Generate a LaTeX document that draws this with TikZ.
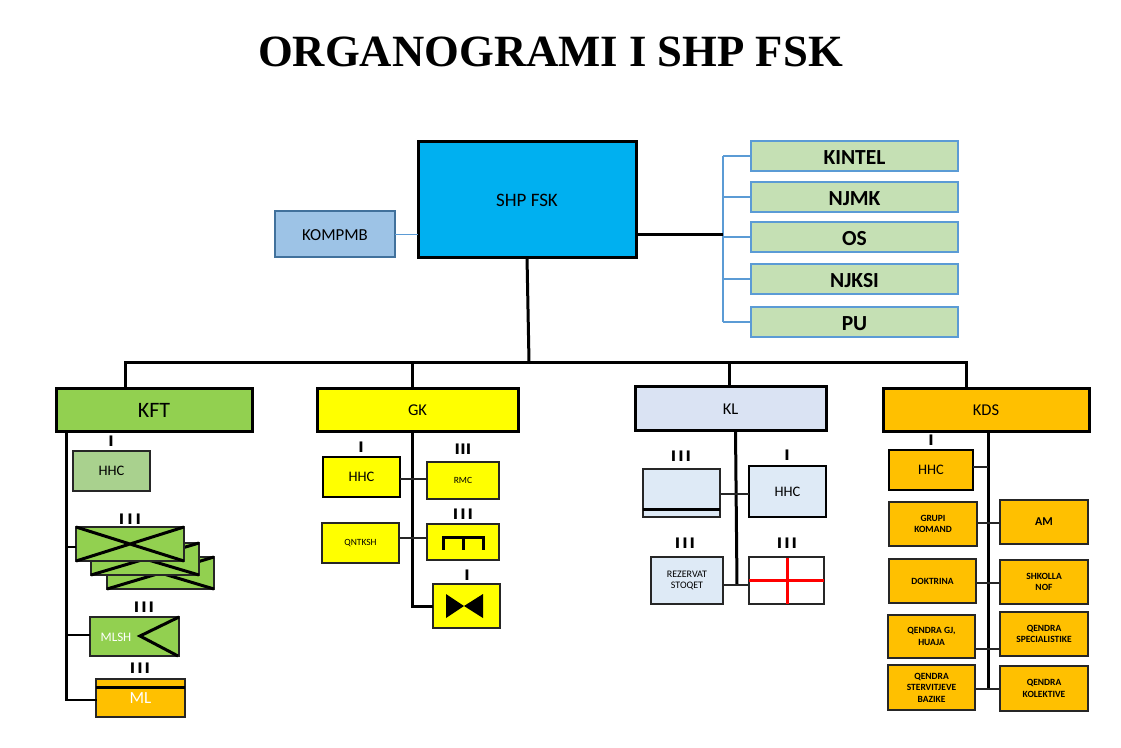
\documentclass[tikz,border=0pt]{standalone}
\usepackage{fontspec}
\setmainfont{Carlito}
\newfontfamily\titlefont{Liberation Serif}
\newfontfamily\rankfont{DejaVu Sans}
\definecolor{shpblue}{HTML}{00B0F0}
\definecolor{kompfill}{HTML}{9DC3E6}
\definecolor{kompline}{HTML}{41719C}
\definecolor{linkblue}{HTML}{5B9BD5}
\definecolor{staffgreen}{HTML}{C5E0B4}
\definecolor{kftgreen}{HTML}{92D050}
\definecolor{hhcgreen}{HTML}{A9D18E}
\definecolor{klblue}{HTML}{DAE3F3}
\definecolor{klpale}{HTML}{DEEAF6}
\definecolor{kdsamber}{HTML}{FFC000}
\definecolor{pureyellow}{HTML}{FFFF00}
\definecolor{purered}{HTML}{FF0000}
\definecolor{darkedge}{HTML}{262626}
\newcommand\fs[1]{\fontsize{#1}{#1}\selectfont}
\newcommand\bx[7]{%
  \pgfmathsetmacro\bxw{#4-#2}\pgfmathsetmacro\bxh{#5-#3}%
  \pgfmathsetmacro\bxx{(#2+#4)/2}\pgfmathsetmacro\bxy{(#3+#5)/2}%
  \node[box,#6,minimum width=\bxw pt,minimum height=\bxh pt] (#1) at (\bxx,\bxy) {#7};}
\newcommand\tIII[1]{I\hspace{#1pt}I\hspace{#1pt}I}
\newcommand\dn[1]{\raisebox{-1pt}[\height][\depth]{#1}}
\newcommand\dnn[1]{\raisebox{-1.6pt}[\height][\depth]{#1}}
\tikzset{
  box/.style={draw=darkedge,line width=1.1pt,inner sep=0pt,outer sep=0pt,align=center,text=black,font=\fs{10}},
  thick box/.style={draw=black,line width=3pt},
  staffbox/.style={draw=linkblue,line width=1.1pt,fill=staffgreen,font=\bfseries\fs{21.5}},
  kdsbox/.style={fill=kdsamber,font=\bfseries\fs{9.5}},
  rank/.style={font=\rankfont\bfseries\fs{14.5},text=black,inner sep=0pt},
  bus/.style={draw=black,line width=3pt},
  stub/.style={draw=darkedge,line width=1.6pt},
  link/.style={draw=linkblue,line width=1.8pt},
  sym/.style={draw=black,line width=3pt},
}
\begin{document}
\begin{tikzpicture}[x=1pt,y=-1pt]
\useasboundingbox (0,0) rectangle (1121,747);
\node[inner sep=0pt,font=\titlefont\bfseries\fs{44.7},text=black] (title) at (550.5,52) {ORGANOGRAMI I SHP FSK};

% top level
\bx{shp}{418}{141}{636}{257}{thick box,fill=shpblue,font=\fs{19}}{\dn{SHP FSK}}
\bx{komp}{275}{211}{395}{257}{draw=kompline,fill=kompfill,font=\fs{16.8}}{\dn{KOMPMB}}
\bx{kintel}{751}{141}{958}{171}{staffbox}{\dnn{KINTEL}}
\bx{njmk}{751}{182}{958}{212}{staffbox}{\dnn{NJMK}}
\bx{os}{751}{222}{958}{252}{staffbox}{\dnn{OS}}
\bx{njksi}{751}{264}{958}{294}{staffbox}{\dnn{NJKSI}}
\bx{pu}{751}{307}{958}{337}{staffbox}{\dnn{PU}}
\coordinate (staffbus) at (723,234);
\draw[link] (staffbus |- kintel.west) -- (staffbus |- pu.west);
\foreach \n in {kintel,njmk,os,njksi,pu} \draw[link] (staffbus |- \n.west) -- (\n.west);
\draw[bus] (shp.east |- staffbus) -- (staffbus);
\draw[draw=linkblue,line width=.8pt] (komp.east |- staffbus) -- (shp.west |- staffbus);

% branch row
\bx{kft}{56}{388}{252}{431}{thick box,fill=kftgreen,font=\fs{22}}{\dn{KFT}}
\bx{gk}{317}{388}{518}{431}{thick box,fill=pureyellow,font=\fs{16.5}}{\dn{GK}}
\bx{kl}{635}{386}{826}{430}{thick box,fill=klblue,font=\fs{16.5}}{\dn{KL}}
\bx{kds}{883}{388}{1089}{431}{thick box,fill=kdsamber,font=\fs{16.5}}{\dn{KDS}}
\coordinate (top) at (529,362);
\coordinate (topl) at (125,362);
\coordinate (topr) at (966,362);
\draw[bus] (shp.south) -- (top);
\draw[bus,line cap=rect] (topl) -- (topr);
\draw[bus] (topl) -- (topl |- kft.north);
\draw[bus] (412,362) -- (412,388);
\draw[bus] (729.5,362) -- (729.5,386);
\draw[bus] (topr) -- (topr |- kds.north);

% KFT
\coordinate (kftb) at (66,431);
\coordinate (kftj1) at (66,547);
\coordinate (kftj2) at (66,635);
\coordinate (kftj3) at (66,700);
\bx{kfthhc}{73}{451}{150}{491}{draw=darkedge,line width=1.6pt,fill=hhcgreen,font=\fs{14.5}}{HHC}
\node[rank] (kftr1) at (111,441) {I};
\foreach \n/\a/\b/\c/\d in {kftc/107/557/214/589,kftbb/91/543/199/575,kfta/76/527/184/561}{
  \bx{\n}{\a}{\b}{\c}{\d}{fill=kftgreen}{}
  \draw[sym] (\n.north west) -- (\n.south east) (\n.south west) -- (\n.north east);
}
\node[rank] (kftr2) at (130,519) {\tIII{3}};
\bx{mlsh}{90}{617}{179}{656}{fill=kftgreen}{}
\node[inner sep=0pt,text=white,font=\fs{13}] (mlshtxt) at (116,637) {MLSH};
\draw[sym] (mlsh.north east) -- (140,636) -- (178,656);
\node[rank] (kftr3) at (144,607) {\tIII{2}};
\bx{ml}{96}{679}{185}{717}{fill=kdsamber,text=white,font=\fs{17}}{ML}
\draw[sym] (ml.west |- 0,687) -- (ml.east |- 0,687);
\node[rank] (kftr4) at (140,668) {\tIII{2}};
\draw[bus] (kftb) -- (kftj3);
\draw[bus,line width=2.6pt] (kftj1) -- (kfta.west |- kftj1);
\draw[bus,line width=2.6pt] (kftj2) -- (mlsh.west |- kftj2);
\draw[bus,line width=2.6pt,line cap=rect] (kftj3) -- (ml.west |- kftj3);

% GK
\coordinate (gkb) at (412,431);
\coordinate (gkj1) at (412,479);
\coordinate (gkj2) at (412,538);
\coordinate (gkj3) at (412,606);
\bx{gkhhc}{323}{457}{400}{497}{draw=black,line width=1.8pt,fill=pureyellow,font=\fs{14.5}}{HHC}
\node[rank] (gkr1) at (361,447) {I};
\bx{gkrmc}{427}{462}{499}{499}{fill=pureyellow,font=\fs{9.5}}{RMC}
\node[rank] (gkr2) at (463,449) {\tIII{0.3}};
\bx{gkq}{322}{523}{399}{563}{fill=pureyellow,font=\fs{9.5}}{QNTKSH}
\bx{gkcomb}{427}{524}{499}{560}{fill=pureyellow}{}
\draw[sym,line cap=rect] (443,548) -- (443,537) -- (483,537) -- (483,548) (463,537) -- (463,548);
\node[rank] (gkr3) at (463,514) {\tIII{2}};
\bx{gkbow}{433}{584}{500}{628}{fill=pureyellow}{}
\fill[black] (446,594) -- (464,606) -- (483,594) -- (483,618) -- (464,606) -- (446,618) -- cycle;
\node[rank] (gkr4) at (467,575) {I};
\draw[bus] (gkb) -- (gkj3) -- (gkbow.west |- gkj3);
\draw[stub,line width=2.2pt] (gkhhc.east |- gkj1) -- (gkrmc.west |- gkj1);
\draw[stub,line width=2.2pt] (gkq.east |- gkj2) -- (gkcomb.west |- gkj2);

% KL
\coordinate (klb) at (735.5,430);
\coordinate (klj1) at (735,494);
\coordinate (klj2) at (737,585);
\bx{klhold}{643}{469}{720}{517}{fill=klpale}{}
\draw[sym] (klhold.west |- 0,509) -- (klhold.east |- 0,509);
\node[rank] (klr1) at (681,456) {\tIII{2}};
\bx{klhhc}{749}{466}{826}{517}{draw=black,line width=2pt,fill=klpale,font=\fs{14.5}}{HHC}
\node[rank] (klr2) at (787,455) {I};
\bx{klres}{651}{557}{723}{604}{fill=klpale,font=\fs{10}}{REZERVAT\\[1.5pt]STOQET}
\node[rank] (klr3) at (685,543) {\tIII{2}};
\bx{klmed}{749}{557}{824}{604}{fill=white}{}
\draw[purered,line width=3pt] (787,557.5) -- (787,603.5);
\draw[purered,line width=3pt] (klmed.west |- 0,580) -- (klmed.east |- 0,580);
\node[rank] (klr4) at (787,543) {\tIII{2}};
\draw[bus] (klb) -- (klj2);
\draw[stub,line width=1.2pt] (klhold.east |- klj1) -- (klhhc.west |- klj1);
\draw[stub,line width=1.4pt] (klres.east |- klj2) -- (klmed.west |- klj2);

% KDS
\coordinate (kdsb) at (988,431);
\coordinate (kdsj0) at (988,467);
\coordinate (kdsj1) at (988,523);
\coordinate (kdsj2) at (988,583);
\coordinate (kdsj3) at (988,649);
\coordinate (kdsj4) at (988,689);
\bx{kdshhc}{889}{450}{973}{490}{draw=black,line width=2pt,fill=kdsamber,font=\fs{14.5}}{HHC}
\node[rank] (kdsr1) at (931,440) {I};
\bx{kg}{889}{502}{977}{546}{kdsbox}{GRUPI\\[2pt]KOMAND}
\bx{ka}{1000}{500}{1088}{544}{kdsbox,font=\bfseries\fs{12}}{AM}
\bx{kd}{889}{559}{976}{603}{kdsbox}{DOKTRINA}
\bx{ks}{1000}{560}{1088}{604}{kdsbox}{SHKOLLA\\[2pt]NOF}
\bx{kq}{888}{615}{975}{658}{kdsbox}{QENDRA GJ,\\[2pt]HUAJA}
\bx{ksp}{1000}{612}{1088}{656}{kdsbox}{QENDRA\\[2pt]SPECIALISTIKE}
\bx{kst}{888}{665}{975}{710}{kdsbox}{QENDRA\\[2pt]STERVITJEVE\\[2pt]BAZIKE}
\bx{kk}{1000}{666}{1088}{711}{kdsbox}{QENDRA\\[2pt]KOLEKTIVE}
\draw[bus] (kdsb) -- (kdsj4);
\draw[stub] (kdshhc.east |- kdsj0) -- (kdsj0);
\draw[stub] (kg.east |- kdsj1) -- (ka.west |- kdsj1);
\draw[stub] (kd.east |- kdsj2) -- (ks.west |- kdsj2);
\draw[stub] (kq.east |- kdsj3) -- (ksp.west |- kdsj3);
\draw[stub] (kst.east |- kdsj4) -- (kk.west |- kdsj4);
\end{tikzpicture}
\end{document}
